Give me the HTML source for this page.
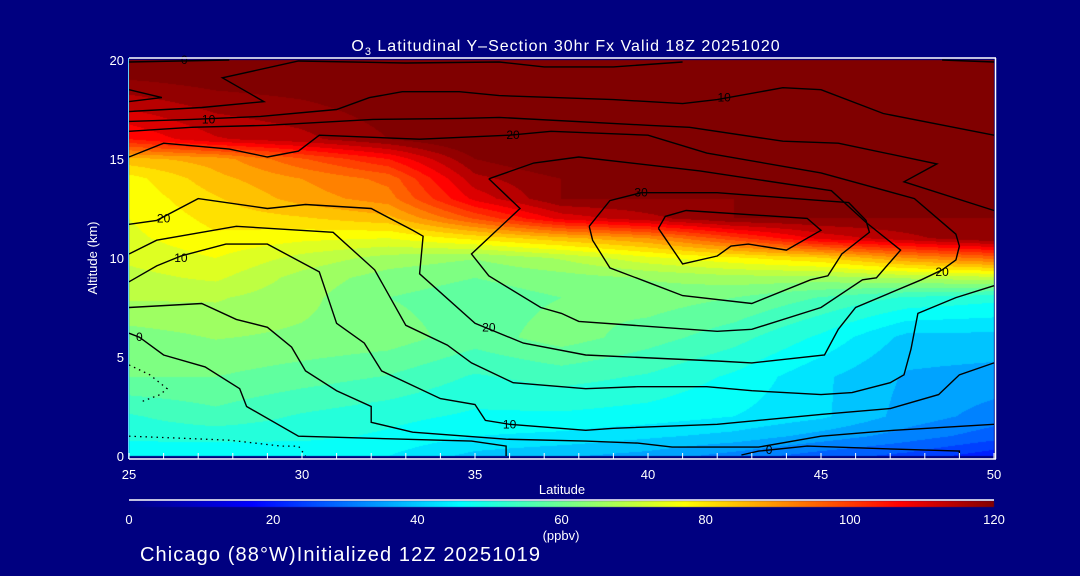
<!DOCTYPE html>
<html><head><meta charset="utf-8">
<style>
html,body{margin:0;padding:0;background:#000080;}
#wrap{position:relative;width:1080px;height:576px;overflow:hidden;background:#000080;font-family:"Liberation Sans",sans-serif;}
canvas{position:absolute;left:0;top:0;}
svg{position:absolute;left:0;top:0;}
</style></head>
<body>
<div id="wrap">
<canvas id="field" width="1080" height="576"></canvas>
<svg id="ov" width="1080" height="576" xmlns="http://www.w3.org/2000/svg"></svg>
</div>
<script>
// ---- data ----
const lats = [25,27.5,30,32.5,35,37.5,40,42.5,45,47.5,50];
const alts = [0,1,2,4,6,8,9,10,11,12,13,14,15,16,20];
const ozone = [
 [45,46,45,45,40,38,36,32,28,25,20],
 [50,50,50,48,45,44,42,40,36,32,28],
 [52,55,52,50,48,48,47,45,42,36,32],
 [60,60,58,56,52,54,52,48,42,37,36],
 [62,64,63,62,58,62,58,54,48,40,40],
 [68,68,65,60,58,60,62,60,56,52,50],
 [70,72,66,62,60,62,64,66,66,68,70],
 [72,75,70,66,64,68,74,78,82,90,95],
 [74,78,76,75,80,85,90,100,110,115,120],
 [75,80,82,85,98,110,115,120,120,120,120],
 [76,82,88,92,110,120,120,120,120,120,120],
 [77,85,90,95,115,120,125,125,125,125,125],
 [85,88,97,105,120,125,125,125,125,125,125],
 [105,112,115,120,125,125,125,125,125,125,125],
 [125,125,125,125,125,125,125,125,125,125,125]
];
const cT2 = [[41,19.9],[39,19.65],[37,19.65],[35.7,19.9],[33,19.85],[29.9,19.95],[27.7,19.1],[28.9,17.9],[27.1,17.6],[25,17.4]];
const cT1 = [[25,19.9],[27.9,20]];
const cT3 = [[48.5,20],[50,19.9]];
const cWedge = [[25,18.5],[25.95,18.1],[25,17.9]];
const cL4 = [[25,16.9],[26.8,17.0],[28.8,17.15],[31,17.5],[31.95,18.1],[32.9,18.4],[34.55,18.4],[35.7,18.2],[39,18.0],[41,17.8],[42,18.0],[43.9,18.6],[45,18.5],[46.8,17.3],[50,16.2]];
const cL5 = [[25,16.4],[26.8,16.6],[29,16.7],[32.05,17],[34.55,17.05],[35.7,17.1],[40,16.7],[41.2,16.6],[43.9,15.9],[45.5,15.8],[48.35,14.75],[47.4,13.85],[50,12.4]];
const c20a = [[25,15.1],[26,15.8],[27.9,15.5],[29,15.1],[29.9,15.4],[30.5,16.2],[33.4,16],[36,16.2],[37.2,16.4],[40,16.2],[41.7,15.3],[45,14.3],[47.7,13],[48.9,11.2],[49,10.6],[48.9,9.9],[48.5,9.4],[47.9,8.9],[46,7.5],[45.5,6.4],[45.1,5.1],[43,4.7],[42,4.8],[38.2,5.1],[36.4,5.7],[35,6.7],[33.4,9.2],[33.5,11.1],[33.2,11.4],[32,12.5],[30.1,12.7],[29,12.5],[27,13],[25.8,11.9],[25,11.7]];
const c20b = [[35.4,14],[36.7,14.8],[38,15.1],[41.5,14.4],[45.3,13.4],[46.3,11.8],[47.3,10.4],[46.6,9],[46.2,8.9],[45,7.5],[43,6.4],[42,6.3],[38,6.8],[37.5,7.2],[36.9,7.5],[35.4,9.1],[34.9,10.2],[36.3,12.5],[35.4,14]];
const c30 = [[38.3,11.6],[38.4,10.9],[38.9,9.5],[40.1,8.7],[41,8.1],[43,7.7],[44.7,8.9],[45.2,9.1],[45.6,10.2],[46.4,11.3],[46.3,11.9],[45.8,12.8],[45,12.9],[42,13.3],[39.8,13.3],[38.9,12.9],[38.3,11.6]];
const c30in = [[40.3,11.5],[40.5,12.1],[41.1,12.4],[44.6,12],[45,11.4],[44,10.4],[42.9,10.7],[42.4,10.6],[42,10.1],[41,9.7],[40.3,11.5]];
const cC = [[25,10.2],[25.8,10.9],[28.1,11.6],[30.9,11.3],[32.1,9.4],[33,6.6],[34.2,5.6],[34.9,4.7],[36.1,3.7],[38.2,3.4],[39.7,3.5],[41.7,3.5],[43,3.3],[45,3.1],[45.9,3.2],[47,3.7],[47.4,4.1],[47.6,5.4],[47.8,7.2],[48.9,8],[50,8.6]];
const c10 = [[25,8.8],[25.8,9.6],[26.5,10.1],[27.8,10.7],[29,10.7],[30.5,9.3],[31,6.7],[31.8,5.7],[32.3,4.3],[34,2.9],[35,2.6],[35.3,1.8],[36,1.6],[38.2,1.3],[39,1.4],[42,1.6],[45,2.1],[47,2.4],[48.4,3.1],[49,4.1],[50,4.7]];
const cL4b = [[25,7.5],[27.1,7.7],[28.1,6.9],[29,6.5],[29.7,5.5],[30.1,4.3],[31,3.3],[32,2.5],[32,1.7],[33.2,1.2],[35.9,0.85],[38.2,0.75],[39.7,0.65],[40.7,0.45],[43.2,0.45],[45,1],[47.1,1.3],[50,1.6]];
const c0a = [[25,6.2],[25.3,6],[26,5.1],[27.2,4.5],[28.2,3.4],[28.4,2.5],[29.9,1],[34.9,0.75],[35.9,0.5],[35.9,0]];
const c0b = [[42.7,0.05],[43.2,0.25],[44.6,0.5],[47.1,0.35],[49,0.25],[49,0]];
const cD1 = [[25,4.6],[25.6,4.1],[26.1,3.4],[25.9,3.1],[25.3,2.7]];
const cD2 = [[25,1],[26.5,0.9],[27.9,0.8],[29.4,0.5],[29.9,0.5],[30.1,0]];
const labelText = ["0","10","20","20","10","0","20","10","0","30","10","20"];
const labelLat  = [26.6,27.3,36.1,26.0,26.5,25.3,35.4,36.0,43.5,39.8,42.2,48.5];
const labelAlt  = [20.0,17.0,16.2,12.0,10.0,6.0,6.5,1.6,0.3,13.3,18.1,9.3];
const xTicks = [25,30,35,40,45,50];
const yTicks = [0,5,10,15,20];
const cbTicks = [0,20,40,60,80,100,120];

// ---- scales ----
const X0=129,X1=994,Y0=456,Y1=60;
const xs = v => X0 + (v-25)/(50-25)*(X1-X0);
const ys = v => Y0 - (v-0)/(20-0)*(Y0-Y1);
const CB0=129,CB1=994;
const cbx = v => CB0 + v/120*(CB1-CB0);

const stops=[[0,[0,0,128]],[17,[0,0,255]],[46,[0,255,255]],[62,[128,255,128]],[77,[255,255,0]],[107,[255,0,0]],[120,[128,0,0]]];
function cmap(v){
  if(v<=0) return stops[0][1];
  if(v>=120) return stops[stops.length-1][1];
  for(let i=0;i<stops.length-1;i++){
    const a=stops[i],b=stops[i+1];
    if(v>=a[0]&&v<=b[0]){const t=(v-a[0])/(b[0]-a[0]);return [0,1,2].map(k=>Math.round(a[1][k]+(b[1][k]-a[1][k])*t));}
  }
  return [0,0,0];
}
function seg(arr,v){for(let i=0;i<arr.length-1;i++){if(v<=arr[i+1])return [i,(v-arr[i])/(arr[i+1]-arr[i])];}return [arr.length-2,1];}
function field(lat,alt){
  const [i,tx]=seg(lats,lat),[j,ty]=seg(alts,alt);
  const a=ozone[j][i],b=ozone[j][i+1],c=ozone[j+1][i],d=ozone[j+1][i+1];
  return (a*(1-tx)+b*tx)*(1-ty)+(c*(1-tx)+d*tx)*ty;
}
// ---- draw field ----
const cv=document.getElementById('field'),ctx=cv.getContext('2d');
const img=ctx.createImageData(X1-X0,Y0-Y1);
for(let py=0;py<Y0-Y1;py++){
  const alt=(Y0-(Y1+py+0.5))/(Y0-Y1)*20;
  for(let px=0;px<X1-X0;px++){
    const lat=25+(px+0.5)/(X1-X0)*25;
    let v=field(lat,alt);
    v=Math.floor(v/3.75)*3.75+1.8;
    const c=cmap(v);const k=(py*(X1-X0)+px)*4;
    img.data[k]=c[0];img.data[k+1]=c[1];img.data[k+2]=c[2];img.data[k+3]=255;
  }
}
ctx.putImageData(img,X0,Y1);
// colorbar
for(let x=CB0;x<CB1;x++){const c=cmap((x-CB0)/(CB1-CB0)*120);ctx.fillStyle=`rgb(${c[0]},${c[1]},${c[2]})`;ctx.fillRect(x,501,1,6);}

// ---- overlay ----
const NS='http://www.w3.org/2000/svg';
const ov=document.getElementById('ov');
function mk(tag,attrs,parent){const e=document.createElementNS(NS,tag);for(const k in attrs)e.setAttribute(k,attrs[k]);(parent||ov).appendChild(e);return e;}
function txt(x,y,s,size,anchor,parent){const t=mk('text',{x:x,y:y,fill:'#fff','font-size':size,'text-anchor':anchor||'middle','font-family':'Liberation Sans, sans-serif'},parent);t.textContent=s;return t;}

const contours=[cT1,cT2,cT3,cWedge,cL4,cL5,c20a,c20b,c30,c30in,cC,c10,cL4b,c0a,c0b];
const gC=mk('g',{});


contours.forEach(function(c){
  const p=mk('polyline',{points:c.map(q=>xs(q[0]).toFixed(1)+','+ys(q[1]).toFixed(1)).join(' '),fill:'none',stroke:'#000','stroke-width':1.4},gC);
  
  
});
[cD1,cD2].forEach(function(c){
  const p=mk('polyline',{points:c.map(q=>xs(q[0]).toFixed(1)+','+ys(q[1]).toFixed(1)).join(' '),fill:'none',stroke:'#000','stroke-width':1.3,'stroke-dasharray':'1.5,4'},gC);
  
  
});
labelText.forEach(function(s,i){
  const t=mk('text',{x:xs(labelLat[i]),y:ys(labelAlt[i])+4,fill:'#000','font-size':12,'text-anchor':'middle','font-family':'Liberation Sans, sans-serif'},gC);
  t.textContent=s;
  
  
});

// axes frame
const fr=mk('g',{});


mk('line',{x1:X0,y1:Y1-2,x2:X1+2,y2:Y1-2,stroke:'#fff','stroke-width':1.5},fr);
mk('line',{x1:X1+1.5,y1:Y1-2,x2:X1+1.5,y2:Y0+3,stroke:'#fff','stroke-width':1.5},fr);
mk('line',{x1:X0,y1:Y0+3,x2:X1+2,y2:Y0+3,stroke:'#fff','stroke-width':1.5},fr);
mk('line',{x1:X0-0.5,y1:Y1-2,x2:X0-0.5,y2:Y0+3,stroke:'#5fd0ff','stroke-width':1},fr);
for(let v=25;v<=50;v++){
  const t=mk('line',{x1:xs(v),y1:Y0+3,x2:xs(v),y2:Y0-3,stroke:'#fff','stroke-width':1},fr);
  
  
}
const gx=mk('g',{});


xTicks.forEach(function(v){const t=txt(xs(v),479,String(v),13,'middle',gx);});
const xl=txt(562,494,'Latitude',13,'middle',gx);


const gy=mk('g',{});


yTicks.forEach(function(v){const t=txt(124,ys(v)+5,String(v),13,'end',gy);});
const yl=mk('text',{x:97,y:258,fill:'#fff','font-size':13,'text-anchor':'middle','font-family':'Liberation Sans, sans-serif',transform:'rotate(-90 97 258)'},gy);
yl.textContent='Altitude (km)';



// title
const ti=mk('text',{x:566,y:51,fill:'#fff','font-size':16,'letter-spacing':'1','text-anchor':'middle','font-family':'Liberation Sans, sans-serif'});


ti.innerHTML='O<tspan font-size="11" dy="4">3</tspan><tspan dy="-4"> Latitudinal Y\u2013Section 30hr  Fx Valid 18Z 20251020</tspan>';

// colorbar
const gcb=mk('g',{});


mk('line',{x1:CB0,y1:500,x2:CB1,y2:500,stroke:'#fff','stroke-width':1.5},gcb);
cbTicks.forEach(function(v){const t=txt(cbx(v),524,String(v),13,'middle',gcb);});
const un=txt(561,540,'(ppbv)',13,'middle',gcb);



const foot=mk('text',{x:140,y:561,fill:'#fff','font-size':20,'letter-spacing':'1.1','text-anchor':'start','font-family':'Liberation Sans, sans-serif'});
foot.textContent='Chicago (88\u00B0W)Initialized 12Z 20251019';


</script>
</body></html>
